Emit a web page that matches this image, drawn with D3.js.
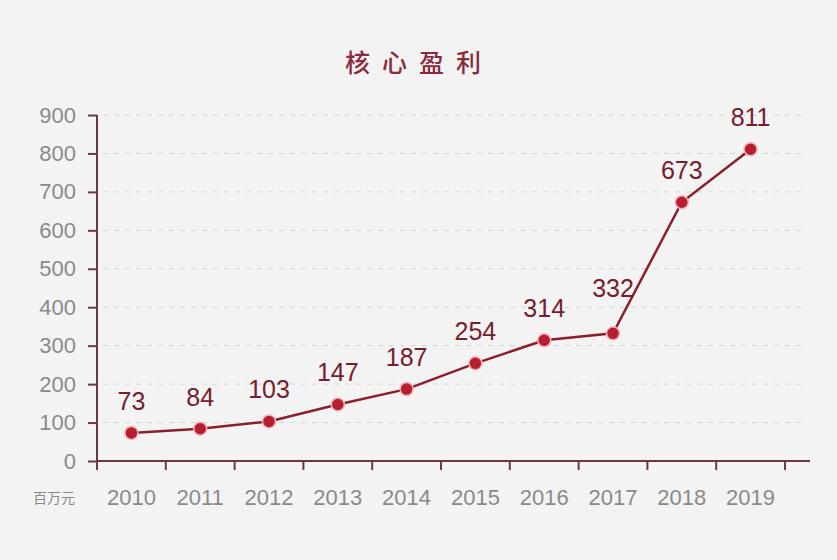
<!DOCTYPE html>
<html>
<head>
<meta charset="utf-8">
<script src="https://cdn.jsdelivr.net/npm/d3@7"></script>
<style>
    body { margin: 0; background: #f3f3f3; }
    svg { display: block; font-family: "Noto Sans CJK SC", "Liberation Sans", sans-serif; }
</style>
</head>
<body>
<script>
const years = ["2010", "2011", "2012", "2013", "2014", "2015", "2016", "2017", "2018", "2019"];
const profit = [73, 84, 103, 147, 187, 254, 314, 332, 673, 811];
const yTicks = [0, 100, 200, 300, 400, 500, 600, 700, 800, 900];

const W = 837, H = 560;
const margin = { top: 115, left: 97, bottom: 99 };
const plotW = 688;
const height = H - margin.top - margin.bottom;

const svg = d3.select("body").append("svg")
    .attr("width", W)
    .attr("height", H);

svg.append("rect").attr("width", W).attr("height", H).attr("fill", "#f3f3f3");

svg.append("text")
    .attr("x", 419)
    .attr("y", 72)
    .attr("text-anchor", "middle")
    .style("font-size", "25px")
    .style("font-weight", "500")
    .style("letter-spacing", "12px")
    .style("fill", "#8a2a3c")
    .text("核心盈利");

const g = svg.append("g")
    .attr("transform", "translate(" + margin.left + "," + margin.top + ")");

const x = d3.scaleBand().domain(years).range([0, plotW]);
const y = d3.scaleLinear().domain([0, 900]).range([height, 0]);

// dashed grid
g.append("g")
    .selectAll("line")
    .data(yTicks.filter(d => d > 0))
    .enter().append("line")
    .attr("x1", 6)
    .attr("x2", 705)
    .attr("y1", d => y(d))
    .attr("y2", d => y(d))
    .attr("stroke", "#d4d4d4")
    .attr("stroke-width", 1)
    .attr("stroke-dasharray", "5,6");

const yAxis = g.append("g")
    .call(d3.axisLeft(y).tickValues(yTicks).tickSize(9).tickPadding(12));
yAxis.select(".domain").attr("stroke", "#6b3a40").attr("stroke-width", 2).attr("d", "M0," + height + "V0");
yAxis.selectAll(".tick line").attr("stroke", "#6b3a40").attr("stroke-width", 2);
yAxis.selectAll(".tick text")
    .style("font-family", "'Liberation Sans', sans-serif")
    .style("font-size", "22px")
    .style("fill", "#8a8a8a");

const xAxis = g.append("g")
    .attr("transform", "translate(0," + height + ")");
xAxis.append("line")
    .attr("x1", 0).attr("x2", 713)
    .attr("stroke", "#6b3a40").attr("stroke-width", 2);
xAxis.selectAll(".tk")
    .data(years)
    .enter().append("line")
    .attr("class", "tk")
    .attr("x1", d => x(d) + x.bandwidth())
    .attr("x2", d => x(d) + x.bandwidth())
    .attr("y1", 0).attr("y2", 9)
    .attr("stroke", "#6b3a40").attr("stroke-width", 2);
xAxis.append("line")
    .attr("y1", 0).attr("y2", 9)
    .attr("stroke", "#6b3a40").attr("stroke-width", 2);
xAxis.selectAll(".yr")
    .data(years)
    .enter().append("text")
    .attr("class", "yr")
    .attr("x", d => x(d) + x.bandwidth() / 2)
    .attr("y", 44)
    .attr("text-anchor", "middle")
    .style("font-family", "'Liberation Sans', sans-serif")
    .style("font-size", "22px")
    .style("fill", "#8a8a8a")
    .text(d => d);

svg.append("text")
    .attr("x", 54)
    .attr("y", 503)
    .attr("text-anchor", "middle")
    .style("font-size", "14px")
    .style("fill", "#8a8a8a")
    .text("百万元");

const line = d3.line()
    .x((d, i) => x(years[i]) + x.bandwidth() / 2)
    .y(d => y(d));

g.append("path")
    .datum(profit)
    .attr("d", line)
    .attr("fill", "none")
    .attr("stroke", "#8c1f2e")
    .attr("stroke-width", 2.5);

g.selectAll(".dot")
    .data(profit)
    .enter().append("circle")
    .attr("class", "dot")
    .attr("cx", (d, i) => x(years[i]) + x.bandwidth() / 2)
    .attr("cy", d => y(d))
    .attr("r", 6.5)
    .attr("fill", "#b51f30")
    .attr("stroke", "#f2b5bb")
    .attr("stroke-width", 1.5);

g.selectAll(".lbl")
    .data(profit)
    .enter().append("text")
    .attr("class", "lbl")
    .attr("x", (d, i) => x(years[i]) + x.bandwidth() / 2)
    .attr("y", d => y(d) - (d === 332 ? 36 : 23))
    .attr("text-anchor", "middle")
    .style("font-family", "'Liberation Sans', sans-serif")
    .style("font-size", "25px")
    .style("fill", "#74202c")
    .text(d => d);
</script>
</body>
</html>
